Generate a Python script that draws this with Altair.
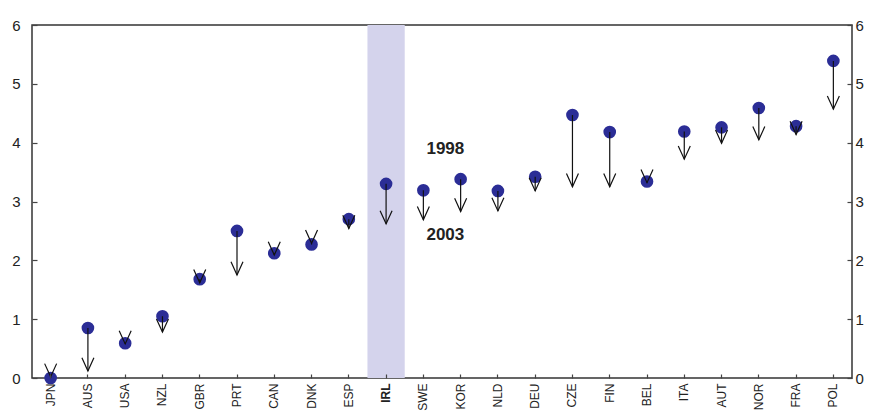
import altair as alt
import pandas as pd

countries = ["JPN", "AUS", "USA", "NZL", "GBR", "PRT", "CAN", "DNK", "ESP", "IRL", "SWE",
             "KOR", "NLD", "DEU", "CZE", "FIN", "BEL", "ITA", "AUT", "NOR", "FRA", "POL"]
v1998 = [0.00, 0.85, 0.59, 1.05, 1.68, 2.50, 2.12, 2.27, 2.70, 3.30, 3.19,
         3.38, 3.18, 3.42, 4.47, 4.18, 3.34, 4.19, 4.26, 4.59, 4.28, 5.39]
v2003 = [0.02, 0.12, 0.58, 0.78, 1.62, 1.75, 2.09, 2.29, 2.54, 2.62, 2.69,
         2.83, 2.84, 3.18, 3.25, 3.25, 3.32, 3.72, 3.99, 4.05, 4.14, 4.57]
highlight = ["IRL"]
y_ticks = [0, 1, 2, 3, 4, 5, 6]
labels_text = ["1998", "2003"]
labels_country = ["SWE", "SWE"]
labels_y = [3.90, 2.43]

df = pd.DataFrame({"country": countries, "v1998": v1998, "v2003": v2003})
hl = pd.DataFrame({"country": highlight, "lo": [0], "hi": [6]})
lab = pd.DataFrame({"country": labels_country, "y": labels_y, "text": labels_text})

xscale = alt.Scale(domain=countries, paddingInner=0, paddingOuter=0)
yscale = alt.Scale(domain=[0, 6], nice=False, zero=False)

xaxis = alt.Axis(
    title=None, labelAngle=-90, labelAlign="right", labelBaseline="middle",
    labelFont="Liberation Sans", labelFontSize=12, labelColor="#222",
    labelFontWeight=alt.ExprRef("datum.value == 'IRL' ? 'bold' : 'normal'"),
    domain=False, offset=-4, tickSize=4, tickColor="#444", tickWidth=1.2,
    labelPadding=5,
)
yaxis_left = alt.Axis(
    title=None, orient="left", values=y_ticks, format="d", grid=False, domain=False,
    offset=-5, tickSize=5, tickColor="#444", tickWidth=1.2, labelPadding=12,
    labelFont="Liberation Sans", labelFontSize=15, labelColor="#222",
)
yaxis_right = alt.Axis(
    title=None, orient="right", values=y_ticks, format="d", grid=False, domain=False,
    offset=-5, tickSize=5, tickColor="#444", tickWidth=1.2, labelPadding=3,
    labelFont="Liberation Sans", labelFontSize=15, labelColor="#222",
)

band = alt.Chart(hl).mark_rect(color="#d4d3ec").encode(
    x=alt.X("country:N", scale=xscale, axis=xaxis),
    y=alt.Y("lo:Q", scale=yscale, axis=yaxis_left),
    y2="hi:Q",
)

band_right = alt.Chart(hl).mark_rect(opacity=0).encode(
    x=alt.X("country:N", scale=xscale),
    y=alt.Y("lo:Q", scale=yscale, axis=yaxis_right),
    y2="hi:Q",
)

dots = alt.Chart(df).mark_circle(size=160, color="#2b2d96", opacity=1, clip=False).encode(
    x=alt.X("country:N", scale=xscale),
    y=alt.Y("v1998:Q", scale=yscale),
)

rules = alt.Chart(df).mark_rule(color="#111", strokeWidth=1.2).encode(
    x=alt.X("country:N", scale=xscale),
    y=alt.Y("v1998:Q", scale=yscale),
    y2="v2003:Q",
)

heads = alt.Chart(df).mark_point(
    shape="M-1,-2.2L0,0L1,-2.2", size=144, filled=False, color="#111",
    strokeWidth=1.2, opacity=1,
).encode(
    x=alt.X("country:N", scale=xscale),
    y=alt.Y("v2003:Q", scale=yscale),
)

texts = alt.Chart(lab).mark_text(
    font="Liberation Sans", fontSize=17, fontWeight="bold", color="#222",
    dx=22, baseline="middle", align="center",
).encode(
    x=alt.X("country:N", scale=xscale),
    y=alt.Y("y:Q", scale=yscale),
    text="text:N",
)

left = alt.layer(band, dots, rules, heads, texts)
chart = alt.layer(left, band_right).resolve_axis(y="independent").properties(
    width=820, height=353,
    autosize=alt.AutoSizeParams(type="none"),
    padding={"left": 24, "top": 17, "right": 14, "bottom": 33},
).configure_view(stroke="#333", strokeWidth=1.5)

chart.save("out.html", embed_options={"renderer": "svg", "actions": False})
